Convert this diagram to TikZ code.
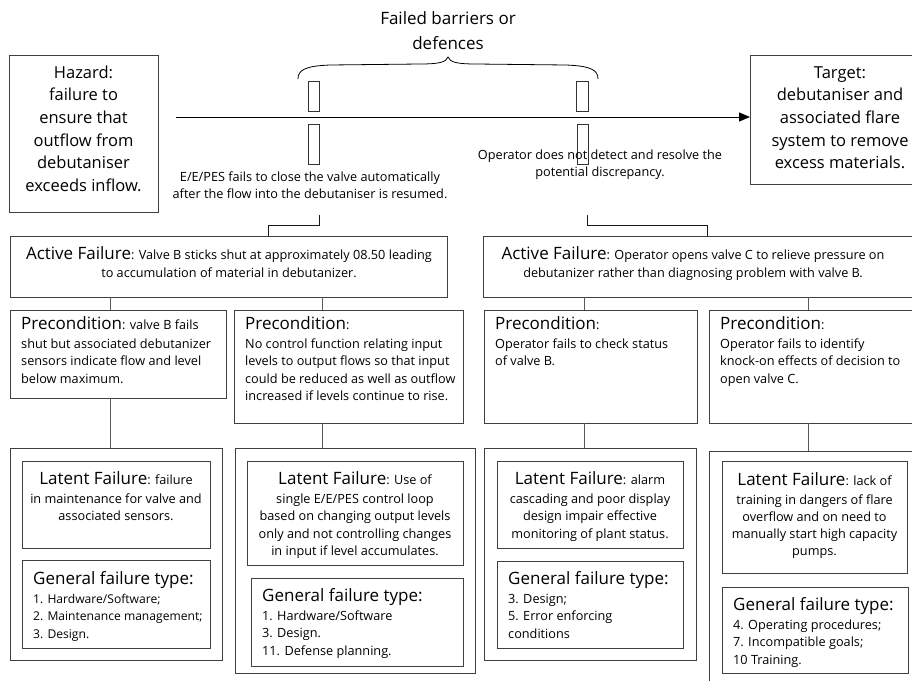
\documentclass[tikz,border=0pt]{standalone}
\usepackage{fontspec}
\setmainfont{Open Sans}
\usetikzlibrary{arrows.meta}

% larger lead-in words of each box
\newcommand\lbl{\fontsize{17}{17.3}\selectfont}
% fixed first-line height, so every text block hangs 14pt above its first baseline
\newcommand\hang{\rule{0pt}{14pt}}

\begin{document}
\begin{tikzpicture}[x=1pt,y=-1pt,
  box/.style={draw=black!75, line width=1pt, anchor=north west, inner sep=0pt, outer sep=0pt},
  bar/.style={draw=black!80, line width=0.9pt, anchor=north west, inner sep=0pt, outer sep=0pt, fill=white},
  body/.style={inner sep=0pt, font=\fontsize{12.7}{17.3}\selectfont},
  big/.style={inner sep=0pt, font=\fontsize{16.5}{22.6}\selectfont, align=center, anchor=north},
  ctext/.style={body, align=center, anchor=north},
  ltext/.style={body, align=left, anchor=north west},
  conn/.style={draw=black!65, line width=1pt},
  link/.style={draw=black!90, line width=0.9pt},
]
\fill[white] (0,0) rectangle (912,680);
\useasboundingbox (0,0) rectangle (912,680);
\clip (0,0) rectangle (912,680);

% ---- hazard, barriers and target ----
\node[box, minimum width=149, minimum height=157] (hazard) at (9,55) {};
\node[big] (hazardtxt) at (83.5,64) {\hang Hazard:\\failure to\\ensure that\\outflow from\\debutaniser\\exceeds inflow.};

\node[box, minimum width=180, minimum height=129] (target) at (750,55) {};
\node[big] (targettxt) at (840,64) {\hang Target:\\debutaniser and\\associated flare\\system to remove\\excess materials.};

\node[big, font=\fontsize{17}{25}\selectfont] (barrtxt) at (448,10) {\hang Failed barriers or\\defences};
\draw[line width=0.8pt] (298,79) .. controls (298,70) and (305,66) .. (330,65)
  -- (420,64) .. controls (440,64) and (446,62) .. (448,57)
  .. controls (450,62) and (456,64) .. (476,64)
  -- (566,65) .. controls (591,66) and (598,70) .. (598,79);

\node[bar, minimum width=11, minimum height=30] (b1u) at (308,81) {};
\node[bar, minimum width=11, minimum height=40] (b1l) at (308,124) {};
\node[bar, minimum width=12, minimum height=30] (b2u) at (576,81) {};
\node[bar, minimum width=11, minimum height=40] (b2l) at (577,124) {};

\coordinate (flowstart) at (176,117);
\draw[line width=1pt, -{Triangle[length=11pt,width=9pt]}] (flowstart) -- (flowstart -| target.west);

\node[ctext] (eetxt) at (310,167) {\hang E/E/PES fails to close the valve automatically\\after the flow into the debutaniser is resumed.};
\node[ctext] (optxt) at (600,145) {\hang Operator does not detect and resolve the\\potential discrepancy.};

% ---- active failures ----
\node[box, minimum width=437, minimum height=61] (act1) at (10,236) {};
\node[ctext] (act1txt) at (229,245.5) {\hang{\lbl Active Failure}: Valve B sticks shut at approximately 08.50 leading\\to accumulation of material in debutanizer.};
\node[box, minimum width=450, minimum height=61] (act2) at (483,236) {};
\node[ctext] (act2txt) at (693,245.5) {\hang{\lbl Active Failure}: Operator opens valve C to relieve pressure on\\debutanizer rather than diagnosing problem with valve B.};

\coordinate (ee1) at (319,215);
\coordinate (ee2) at (268,225);
\draw[link] (ee1) |- (ee2) -- (ee2 |- act1.north);
\coordinate (op1) at (587,215);
\coordinate (op2) at (707,225);
\draw[link] (op1) |- (op2) -- (op2 |- act2.north);

% ---- preconditions ----
\node[box, minimum width=216, minimum height=88] (pre1) at (10,310) {};
\node[ltext] (pre1txt) at (21,315) {\hang{\lbl Precondition}: valve B fails\\[2pt]shut but associated debutanizer\\sensors indicate flow and level\\below maximum.};
\node[box, minimum width=229, minimum height=113] (pre2) at (234,310) {};
\node[ltext] (pre2txt) at (245,315) {\hang{\lbl Precondition}:\\[2pt]No control function relating input\\levels to output flows so that input\\could be reduced as well as outflow\\increased if levels continue to rise.};
\node[box, minimum width=213, minimum height=113] (pre3) at (484,310) {};
\node[ltext] (pre3txt) at (495,315) {\hang{\lbl Precondition}:\\[2pt]Operator fails to check status\\of valve B.};
\node[box, minimum width=230, minimum height=113] (pre4) at (709,310) {};
\node[ltext] (pre4txt) at (720,315) {\hang{\lbl Precondition}:\\[2pt]Operator fails to identify\\knock-on effects of decision to\\open valve C.};

\draw[conn] (act1.south -| 110,0) -- (pre1.north -| 110,0);
\draw[conn] (act1.south -| 322,0) -- (pre2.north -| 322,0);
\draw[conn] (act2.south -| 584,0) -- (pre3.north -| 584,0);
\draw[conn] (act2.south -| 808,0) -- (pre4.north -| 808,0);

% ---- latent failure groups ----
\node[box, minimum width=212, minimum height=212] (out1) at (10,448) {};
\node[box, minimum width=240, minimum height=225] (out2) at (235,448) {};
\node[box, minimum width=212, minimum height=212] (out3) at (484,448) {};
\node[box, minimum width=230, minimum height=240] (out4) at (709,451) {};

\draw[conn] (pre1.south -| 110,0) -- (out1.north -| 110,0);
\draw[conn] (pre2.south -| 322,0) -- (out2.north -| 322,0);
\draw[conn] (pre3.south -| 584,0) -- (out3.north -| 584,0);
\draw[conn] (pre4.south -| 808,0) -- (out4.north -| 808,0);

\node[box, minimum width=188, minimum height=87] (lat1) at (22,461) {};
\node[ctext] (lat1txt) at (116,470.5) {\hang{\lbl Latent Failure}: failure\\[1.5pt]in maintenance for valve and\\associated sensors.};
\node[box, minimum width=188, minimum height=88] (gft1) at (22,560) {};
\node[ltext, font=\fontsize{12.1}{17.3}\selectfont] (gft1txt) at (33,570) {\hang{\lbl General failure type:}\\[2pt]1. Hardware/Software;\\2. Maintenance management;\\3. Design.};

\node[box, minimum width=216, minimum height=104] (lat2) at (247,461) {};
\node[ctext] (lat2txt) at (355,470.5) {\hang{\lbl Latent Failure}: Use of\\[1.5pt]single E/E/PES control loop\\based on changing output levels\\only and not controlling changes\\in input if level accumulates.};
\node[box, minimum width=212, minimum height=88] (gft2) at (251,578) {};
\node[ltext] (gft2txt) at (262,587) {\hang{\lbl General failure type:}\\[2pt]1. Hardware/Software\\3. Design.\\11. Defense planning.};

\node[box, minimum width=186, minimum height=87] (lat3) at (497,461) {};
\node[ctext] (lat3txt) at (590,470.5) {\hang{\lbl Latent Failure}: alarm\\[1.5pt]cascading and poor display\\design impair effective\\monitoring of plant status.};
\node[box, minimum width=186, minimum height=87] (gft3) at (497,561) {};
\node[ltext] (gft3txt) at (508,570) {\hang{\lbl General failure type:}\\[2pt]3. Design;\\5. Error enforcing\\conditions};

\node[box, minimum width=185, minimum height=112] (lat4) at (722,461) {};
\node[ctext] (lat4txt) at (814.5,471) {\hang{\lbl Latent Failure}: lack of\\[1.5pt]training in dangers of flare\\overflow and on need to\\manually start high capacity\\pumps.};
\node[box, minimum width=186, minimum height=86] (gft4) at (722,587) {};
\node[ltext] (gft4txt) at (733,596) {\hang{\lbl General failure type:}\\[2pt]4. Operating procedures;\\7. Incompatible goals;\\10 Training.};
\end{tikzpicture}
\end{document}
